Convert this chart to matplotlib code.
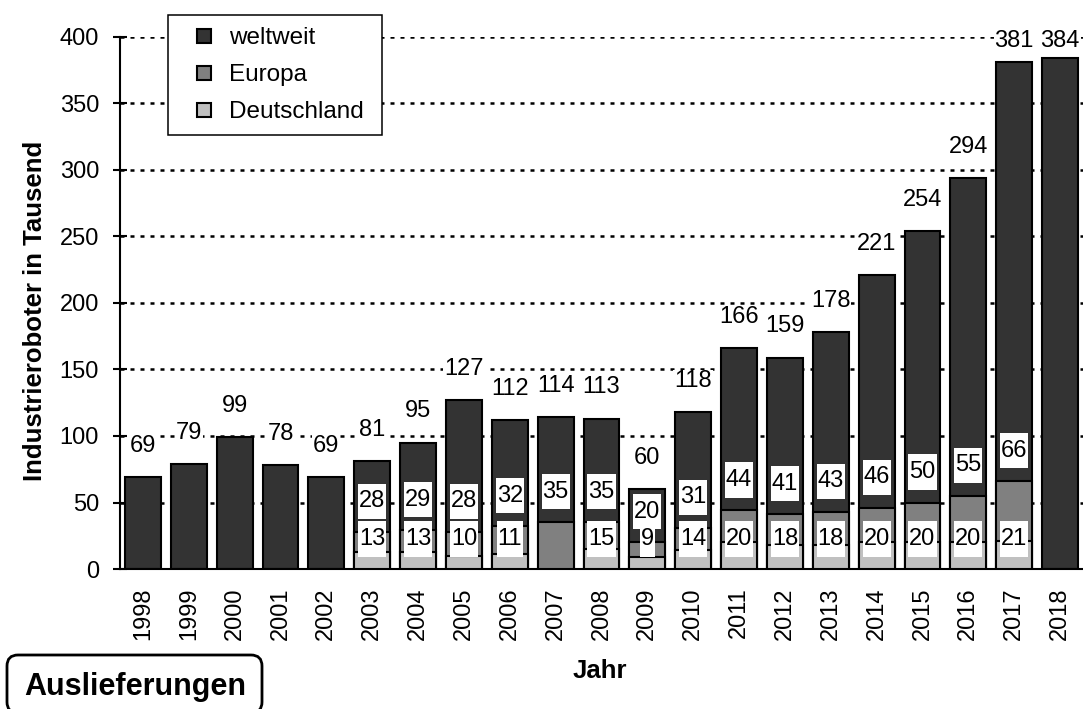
import matplotlib
matplotlib.use('Agg')
import matplotlib.pyplot as plt
import numpy as np
from matplotlib.lines import Line2D
from matplotlib.patches import FancyBboxPatch
from matplotlib.path import Path
from matplotlib.transforms import IdentityTransform

# Auslieferungen Industrieroboter (in Tausend)
years = ['1998', '1999', '2000', '2001', '2002', '2003', '2004', '2005', '2006', '2007', '2008',
         '2009', '2010', '2011', '2012', '2013', '2014', '2015', '2016', '2017', '2018']
weltweit = [69, 79, 99, 78, 69, 81, 95, 127, 112, 114, 113, 60, 118, 166, 159, 178, 221, 254, 294, 381, 384]
europa = [None, None, None, None, None, 28, 29, 28, 32, 35, 35, 20, 31, 44, 41, 43, 46, 50, 55, 66, None]
deutschland = [None, None, None, None, None, 13, 13, 10, 11, None, 15, 9, 14, 20, 18, 18, 20, 20, 20, 21, None]

series_names = ['weltweit', 'Europa', 'Deutschland']
series_colors = ['#333333', '#808080', '#c0c0c0']


def make_box(pad_x, pad_y):
    # white box, narrow at the sides, taller above/below (like the Excel labels)
    def box(x0, y0, width, height, mutation_size):
        px, py = pad_x * mutation_size, pad_y * mutation_size
        x0, y0 = x0 - px, y0 - py
        x1, y1 = x0 + width + 2 * px, y0 + height + 2 * py
        return Path([(x0, y0), (x1, y0), (x1, y1), (x0, y1), (x0, y0)], closed=True)
    return box


plt.rcParams['font.family'] = ['Liberation Sans', 'DejaVu Sans']

fig = plt.figure(figsize=(10.83, 7.09), dpi=100)
ax = fig.add_axes([120 / 1083, 1 - 569 / 709, 963 / 1083, 532 / 709])

x = np.arange(len(years))
inner_style = dict(ha='center', va='center', fontsize=17, zorder=6,
                   bbox=dict(boxstyle=make_box(0.04, 0.28), facecolor='white', edgecolor='none'))
top_style = dict(ha='center', va='center', fontsize=17, zorder=6,
                 bbox=dict(boxstyle=make_box(0.04, 0.0), facecolor='white', edgecolor='none'))

for values, color, z in zip([weltweit, europa, deutschland], series_colors, [2, 3, 4]):
    vals = np.array([np.nan if v is None else v for v in values], dtype=float)
    mask = ~np.isnan(vals)
    ax.bar(x[mask], vals[mask], width=0.78, color=color, edgecolor='black',
           linewidth=1.5, zorder=z)

# value labels
for i, v in enumerate(weltweit):
    ax.text(x[i], min(v + 23.5, 397), str(v), **top_style)
for i, v in enumerate(europa):
    if v is not None:
        ax.text(x[i], v + 23, str(v), **inner_style)
for i, v in enumerate(deutschland):
    if v is not None:
        ax.text(x[i], 22.5, str(v), **inner_style)

ax.set_xlim(-0.5, 20.5)
ax.set_ylim(0, 400)
ax.set_yticks(range(0, 401, 50))
ax.set_xticks(x, years, rotation=90)
ax.tick_params(axis='x', length=0, pad=13, labelsize=17)
ax.tick_params(axis='y', direction='inout', length=9.4, width=1.5, pad=10.4, labelsize=17)
for side in ['top', 'right']:
    ax.spines[side].set_visible(False)
for side in ['left', 'bottom']:
    ax.spines[side].set_linewidth(1.5)

ax.yaxis.grid(True, color='black', linewidth=1.8, linestyle=(0, (1.6, 2.4)))
ax.set_axisbelow(True)

handles = [Line2D([], [], marker='s', linestyle='none', markersize=10.5,
                  markerfacecolor=c, markeredgecolor='black', markeredgewidth=1.5)
           for c in series_colors]
leg = ax.legend(handles, series_names, loc='upper left',
                bbox_to_anchor=(168 / 1083, 1 - 135 / 709, 214 / 1083, 120 / 709),
                bbox_transform=fig.transFigure, mode='expand', borderaxespad=0,
                borderpad=0.5, labelspacing=0.62, handlelength=2.0, handletextpad=0.0,
                fontsize=17.5, fancybox=False, framealpha=1, edgecolor='black')
leg.get_frame().set_linewidth(1.1)

fig.text(35 / 1083, 1 - 311 / 709, 'Industrieroboter in Tausend', rotation=90,
         ha='center', va='center', fontsize=18.5, fontweight='bold')
fig.text(600 / 1083, 1 - 678 / 709, 'Jahr', ha='center', va='baseline',
         fontsize=18.5, fontweight='bold')

box = FancyBboxPatch((7, -4), 255, 58, boxstyle='round,pad=0,rounding_size=11',
                     transform=IdentityTransform(), facecolor='white',
                     edgecolor='black', linewidth=2)
fig.add_artist(box)
fig.text(135 / 1083, 1 - 695 / 709, 'Auslieferungen', ha='center', va='baseline',
         fontsize=22, fontweight='bold')

fig.savefig('out.png', dpi=100)
